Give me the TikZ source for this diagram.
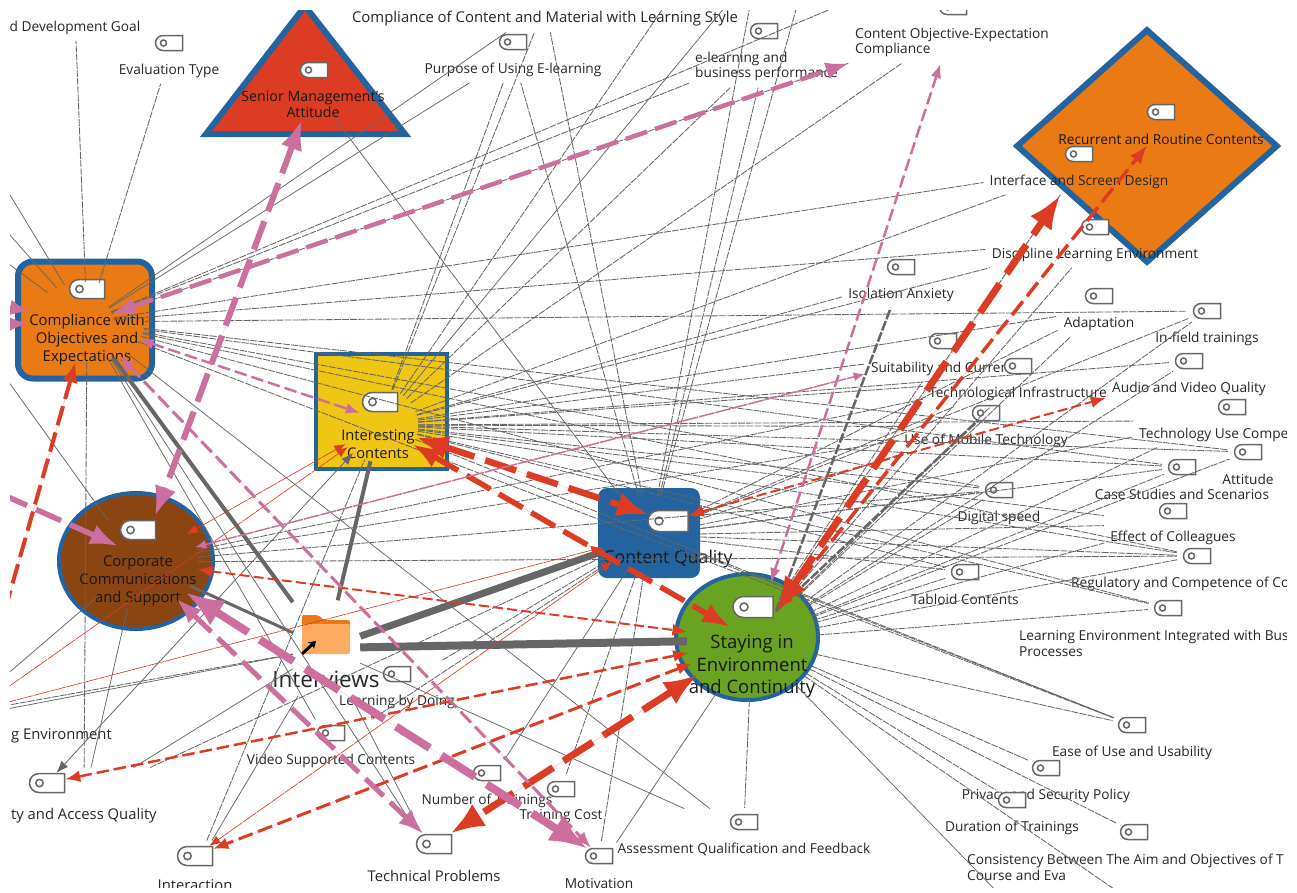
\documentclass[tikz,border=0pt]{standalone}
\usepackage{fontspec}
\setmainfont{Open Sans}
\usetikzlibrary{arrows.meta,fit,shapes.geometric,shapes.misc}
\definecolor{hubblue}{HTML}{23639F}
\definecolor{huborange}{HTML}{EA7A14}
\definecolor{hubred}{HTML}{DD3C24}
\definecolor{hubyellow}{HTML}{EFC614}
\definecolor{hubgreen}{HTML}{6AA321}
\definecolor{hubbrown}{HTML}{8B4513}
\definecolor{folderpale}{HTML}{FDAB63}
\definecolor{linkpink}{HTML}{CC6F9E}
\definecolor{linkred}{HTML}{DD3C24}
\definecolor{linkgrey}{HTML}{666666}
\tikzset{
  tagbase/.style   = {rounded rectangle, rounded rectangle right arc=none, draw=linkgrey,
                      line width=1.5pt, fill=white, inner sep=0pt},
  taghole/.style 2 args = {path picture={\draw[linkgrey, line width=1.5pt]
                      ([xshift=#1]path picture bounding box.west) circle (#2);}},
  tagicon/.style   = {tagbase, minimum width=27pt, minimum height=15pt, taghole={8pt}{3pt}},
  bigtag/.style    = {tagbase, minimum width=35pt, minimum height=19pt, taghole={10pt}{3.7pt}},
  hugetag/.style   = {tagbase, minimum width=40pt, minimum height=21pt, taghole={11pt}{4pt}},
  codetext/.style  = {font=\fontsize{13.7}{15.7}\selectfont, align=left, inner sep=1pt, text=black!85, yshift=-1.5pt},
  bigtext/.style   = {codetext, font=\fontsize{14.8}{16}\selectfont},
  codebox/.style   = {rectangle, inner sep=5pt},
  hubtext/.style   = {align=center, inner sep=0pt, text=black!90, yshift=-1.5pt},
  hubzone/.style   = {ellipse, inner sep=0pt},
  hubshape/.style  = {draw=hubblue, inner sep=0pt},
  thindash/.style  = {draw=linkgrey, line width=.85pt, dash pattern=on 7pt off 1.2pt},
  thinline/.style  = {draw=linkgrey, line width=.75pt},
  greyheavy/.style = {draw=linkgrey, line width=#1},
  greydash/.style  = {draw=linkgrey, line width=#1, dash pattern=on 10pt off 2pt},
  redlink/.style   = {draw=linkred, fill=linkred, line width=#1, dash pattern=on 5*#1 off 1.6*#1+1pt, {Latex}-{Latex}},
  pinklink/.style  = {draw=linkpink, fill=linkpink, line width=#1, dash pattern=on 5*#1 off 1.6*#1+1pt, {Latex}-{Latex}},
  smallheads/.style = {{Latex[length=15pt,width=12pt]}-{Latex[length=15pt,width=12pt]}},
  thinheads/.style  = {{Latex[length=11pt,width=9pt]}-{Latex[length=11pt,width=9pt]}, dash pattern=on 16pt off 1pt},
}

\begin{document}
\begin{tikzpicture}[x=1pt,y=-1pt]
\useasboundingbox (0,0) rectangle (1297,892);
\begin{scope}
\clip (10,10) rectangle (1286,887);

% hub shapes
\node[hubshape, fill=huborange, line width=6pt, rounded corners=15pt, minimum width=134pt, minimum height=117pt] (cmpshape) at (85,320) {};
\node[hubshape, fill=hubyellow, line width=4pt, minimum width=131pt, minimum height=115pt] (intershape) at (381.5,411.5) {};
\node[hubshape, fill=hubblue, draw=none, rounded corners=9pt, minimum width=102pt, minimum height=90pt] (qualshape) at (649,533) {};
\node[hubshape, ellipse, fill=hubgreen, line width=4pt, minimum width=142pt, minimum height=126pt] (stayshape) at (747,637) {};
\node[hubshape, ellipse, fill=hubbrown, line width=4pt, minimum width=154pt, minimum height=136pt] (corpshape) at (136,561) {};
\node[hubshape, diamond, fill=huborange, line width=6pt, aspect=1.12, minimum width=262pt, minimum height=234pt] (recurshape) at (1147,146) {};
\filldraw[draw=hubblue, fill=hubred, line width=6pt, line join=miter] (305,6) -- (405,134) -- (206,134) -- cycle;

% the folder
\fill[huborange, rounded corners=2pt] (302,623) -- (302,615) -- (318,615) -- (324,620) -- (350,620) -- (350,630) -- (302,630) -- cycle;
\fill[folderpale, rounded corners=2pt] (302,624) rectangle (350,654);
\draw[black, line width=3pt, -{Stealth[length=7pt,width=9pt]}] (302,654) -- (316,641);
\node[font=\fontsize{22.5}{26}\selectfont, text=black!85] (ivtext) at (326,679) {Interviews};
\node[codebox, minimum width=67pt, minimum height=95pt] (iv) at (326.5,648) {};

% hub tags and texts
\foreach \nm/\tg/\tx/\ty/\lx/\ly/\sz/\ld/\txt in {
  cmp/bigtag/87/289/87/338/14.9/18/{Compliance with\\Objectives and\\Expectations},
  inter/bigtag/380/402/378/443/14.7/18/{Interesting\\Contents},
  qual/hugetag/668/521/668/557/17.7/18/{Content Quality},
  stay/hugetag/753/607/752/665/18.5/22.5/{Staying in\\Environment\\and Continuity},
  corp/bigtag/138/530/138/579/14.8/18/{Corporate\\Communications\\and Support},
  senior/tagicon/314/70/313/103/14.2/16/{Senior Management's\\Attitude},
  recur/tagicon/1161/112/1161/138/13.7/16/{Recurrent and Routine Contents}}
{
  \node[\tg] (t\nm) at (\tx,\ty) {};
  \node[hubtext, font=\fontsize{\sz}{\ld}\selectfont] (l\nm) at (\lx,\ly) {\txt};
}
\node[hubzone, minimum width=116pt, minimum height=80pt] (cmp) at (87,322) {};
\node[hubzone, minimum width=52pt, minimum height=52pt] (cmpfan) at (87,322) {};
\node[hubzone, minimum width=78pt, minimum height=74pt] (inter) at (379,425) {};
\node[hubzone, minimum width=100pt, minimum height=80pt] (qual) at (650,535) {};
\node[hubzone, minimum width=130pt, minimum height=120pt] (stay) at (752,640) {};
\node[hubzone, minimum width=120pt, minimum height=95pt] (corp) at (138,562) {};
\node[hubzone, minimum width=145pt, minimum height=60pt] (senior) at (313,90) {};
\node[hubzone, minimum width=205pt, minimum height=34pt] (recur) at (1161,128) {};

% codes, a tag with its text
\foreach \nm/\tx/\ty/\an/\lx/\ly/\txt in {
  goal/75/1/center/75/26/{d Development Goal},
  evaltype/169/43/center/169/69/{Evaluation Type},
  compl/545/-8/center/545/17/{\fontsize{14.9}{18}\selectfont Compliance of Content and Material with Learning Style},
  purpose/513/42/center/513/68/{Purpose of Using E-learning},
  elearn/764/31/west/694/65/{e-learning and\\business performance},
  contobj/953/7/west/854/41/{Content Objective-Expectation\\Compliance},
  interface/1079/154/center/1079/180/{Interface and Screen Design},
  discipline/1095/227/center/1095/253/{Discipline Learning Environment},
  isolation/901/267/center/901/293/{Isolation Anxiety},
  adapt/1099/296/center/1099/322/{Adaptation},
  infield/1207/311/center/1207/337/{In-field trainings},
  suit/943/341/center/940/367/{Suitability and Curren},
  techinfra/1018/366/center/1018/392/{Technological Infrastructure},
  audio/1189/361/center/1189/387/{Audio and Video Quality},
  usemob/986/413/center/986/439/{Use of Mobile Technology},
  techuse/1232/407/west/1138/433/{Technology Use Compe},
  attitude/1248/452/center/1248/478/{Attitude},
  casest/1182/467/center/1182/493/{Case Studies and Scenarios},
  digital/999/490/center/999/516/{Digital speed},
  effect/1173/511/center/1173/536/{Effect of Colleagues},
  regul/1197/556/west/1070/582/{Regulatory and Competence of Co},
  tabloid/965/572/center/965/598/{Tabloid Contents},
  learnenv/1168/608/west/1018/642/{Learning Environment Integrated with Bus\\Processes},
  ease/1132/725/center/1132/751/{Ease of Use and Usability},
  privacy/1046/768/center/1046/794/{Privacy and Security Policy},
  duration/1012/800/center/1012/826/{Duration of Trainings},
  consist/1134/832/west/966/866/{Consistency Between The Aim and Objectives of T\\Course and Eva},
  assess/744/822/center/744/848/{Assessment Qualification and Feedback},
  motivation/599/856/center/599/882/{Motivation},
  costs/561/789/center/561/815/{Training Cost},
  number/487/773/center/487/799/{Number of Trainings},
  video/331/733/center/331/759/{Video Supported Contents},
  learnby/397/674/center/397/700/{Learning by Doing}}
{
  \node[tagicon] (t\nm) at (\tx,\ty) {};
  \node[codetext, anchor=\an] (l\nm) at (\lx,\ly) {\txt};
  \node[codebox, fit=(t\nm)(l\nm)] (\nm) {};
}
\foreach \nm/\tx/\ty/\an/\lx/\ly/\txt in {
  techprob/434/844/center/434/874/{Technical Problems},
  interaction/195/856/center/195/884/{Interaction},
  access/47/783/west/10/814/{ty and Access Quality},
  genv/-20/709/west/10/734/{g Environment}}
{
  \node[bigtag] (t\nm) at (\tx,\ty) {};
  \node[bigtext, anchor=\an] (l\nm) at (\lx,\ly) {\txt};
  \node[codebox, fit=(t\nm)(l\nm)] (\nm) {};
}

% ends that leave the picture
\foreach \nm/\px/\py in {offa/-30/129, offb/-30/190, offc/-30/235, offd/-30/328, offe/-30/706,
  offg/-30/714, offh/-30/712, offi/-30/712, offj/-30/716, offl/-30/300, offm/-30/325,
  offr/-5/645, offs/-30/480, offta/800/-5, offtb/752/-5, offtc/735/-5, offtd/838/6, offte/672/-5,
  offba/1005/900, offbb/1130/900}
  \coordinate (\nm) at (\px,\py);
\coordinate (corpin) at (118,546);
\coordinate (interin) at (360,413);
\coordinate (stayin) at (730,627);
\coordinate (stayout) at (776,611);

% the thin links
\foreach \a/\b in {cmp/goal, cmp/evaltype, cmpfan/elearn, cmpfan/contobj, cmpfan/interface, cmpfan/discipline,
  cmp/access, cmpfan/offtd, inter/compl, inter/purpose, inter/elearn, inter/contobj, inter/interface,
  inter/discipline, inter/isolation, inter/adapt, inter/suit, inter/techinfra, inter/techuse,
  inter/effect, inter/usemob, inter/offte, qual/compl, qual/purpose, qual/elearn, qual/offta, qual/offtb,
  qual/adapt, qual/techinfra, qual/usemob, qual/techuse, qual/effect, qual/learnby, qual/video,
  stay/adapt, stay/discipline, stay/suit, stay/techinfra, stay/techuse, stay/effect, stay/offbb,
  stay/interface, corp/techinfra, corp/usemob, iv/offi, interaction/inter, access/qual}
  \draw[thindash] (\a) -- (\b);
\foreach \a/\b in {cmp/infield, cmp/attitude, cmp/casest, cmp/digital, cmp/regul, cmp/learnenv, cmp/ease,
  inter/audio, inter/casest, inter/digital, inter/regul, inter/tabloid, inter/learnenv, inter/ease,
  inter/attitude, qual/infield, qual/casest, qual/digital, qual/regul, qual/tabloid, qual/costs,
  qual/motivation, qual/ease, stay/infield, stay/audio, stay/attitude, stay/casest, stay/digital,
  stay/regul, stay/tabloid, stay/learnenv, stay/ease, stay/privacy, stay/duration, stay/consist,
  stay/assess, corp/digital, corp/regul}
  \draw[thindash, shorten >=6pt] (\a) -- (t\b);
\foreach \a/\b in {cmpfan/compl, cmpfan/purpose, cmp/techprob, cmp/video, cmp/assess, cmp/offa, cmp/offb, cmp/offc,
  corp/offd, corp/offe, corp/access, senior/qual, stay/motivation, stay/offba, qual/number, inter/offtc,
  iv/offj, iv/interaction, iv/access, iv/assess, iv/techprob}
  \draw[thinline] (\a) -- (\b);
\draw[thinline, {Latex[length=12pt,width=9pt]}-{Latex[length=12pt,width=9pt]}, fill=linkgrey] (inter) -- (taccess);

% the grey links of the folder
\draw[greyheavy=4pt] (iv) -- (cmp);
\draw[greyheavy=4pt] (iv) -- (inter);
\draw[greyheavy=3pt] (iv) -- (corp);
\draw[greyheavy=7pt] (iv) -- (qual);
\draw[greyheavy=8pt] (iv) -- (stay);
\draw[greydash=2.5pt] (stayout) -- (isolation);
\draw[greydash=2.5pt] (stayout) -- (tusemob);

% the red links
\draw[redlink=.6pt, thinheads] (inter) -- (corp);
\draw[redlink=.6pt, thinheads] (inter) -- (offg);
\draw[redlink=.6pt, thinheads] (qual) -- (offh);
\draw[redlink=.6pt, thinheads] (qual) -- (tinteraction);
\draw[redlink=2pt, smallheads] (tqual) -- (audio);
\draw[redlink=2pt, smallheads] (corp) -- (stay);
\draw[redlink=2.5pt, smallheads] (stay) -- (taccess);
\draw[redlink=3pt, smallheads] (stay) -- (tinteraction);
\draw[redlink=3.5pt] (stayout) -- (recur);
\draw[redlink=4pt] (cmp) -- (offr);
\draw[redlink=5.5pt] (inter) -- (stayin);
\draw[redlink=6.5pt] (inter) -- (tqual);
\draw[redlink=7pt] (stayout) -- (interface);
\draw[redlink=7pt] (stay) -- (ttechprob);

% the pink links
\draw[pinklink=1.5pt, thinheads] (corp) -- (suit);
\draw[pinklink=2.5pt] (cmp) -- (interin);
\draw[pinklink=2.5pt] (stay) -- (contobj);
\draw[pinklink=3pt] (cmp) -- (tmotivation);
\draw[pinklink=4.5pt] (cmpfan) -- (contobj);
\draw[pinklink=4pt] (cmp) -- (offl);
\draw[pinklink=4pt] (cmp) -- (offm);
\draw[pinklink=5pt] (corp) -- (ttechprob);
\draw[pinklink=5.5pt] (corpin) -- (offs);
\draw[pinklink=6pt] (senior) -- (corp);
\draw[pinklink=8pt] (corp) -- (tmotivation);
\end{scope}
\end{tikzpicture}
\end{document}
